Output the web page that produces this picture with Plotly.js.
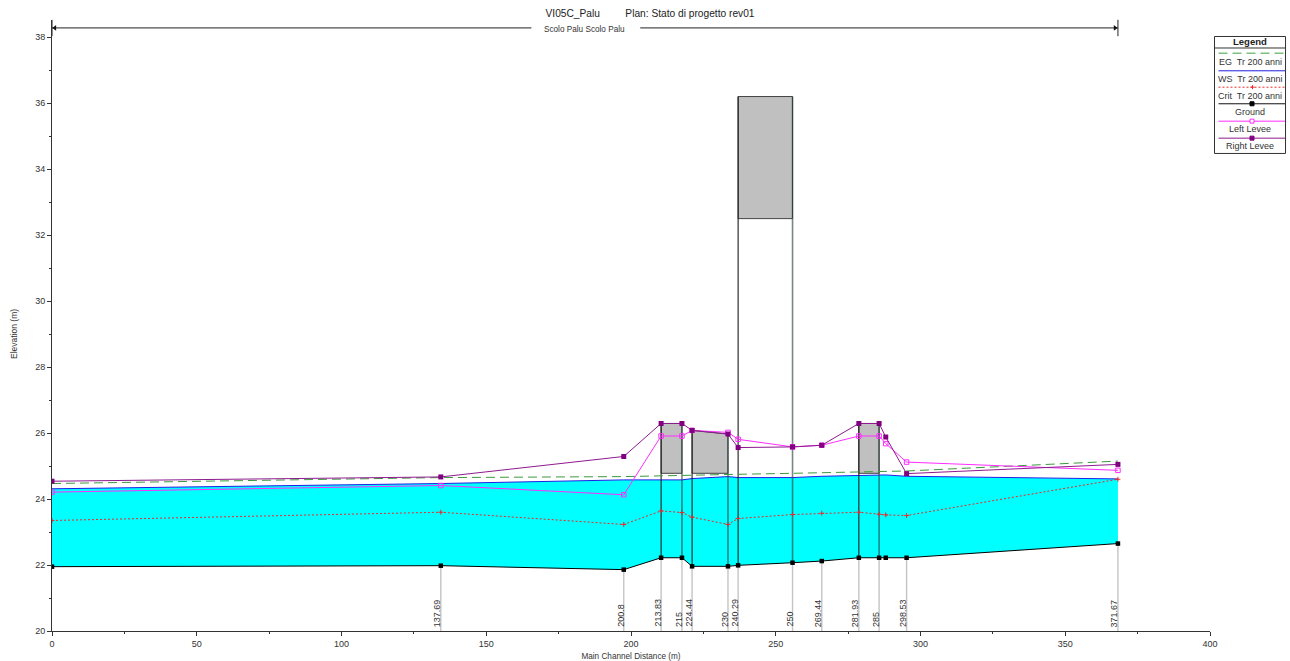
<!DOCTYPE html>
<html>
<head>
<meta charset="utf-8">
<script src="https://cdn.plot.ly/plotly-3.0.1.min.js"></script>
<style>html,body{margin:0;padding:0;background:#fff}#chart{width:1290px;height:661px}</style>
</head>
<body>
<div id="chart"></div>
<script>
// ---- data ----
const stationX = [0,134.3,197.5,210.4,217.6,221.1,233.5,237,255.8,265.9,278.7,285.7,288,295.2,368.2];
const ground   = [21.95,21.98,21.86,22.22,22.22,21.96,21.96,21.99,22.07,22.12,22.22,22.22,22.22,22.22,22.65];
const waterSurface = [24.31,24.47,24.58,24.57,24.58,24.62,24.68,24.65,24.65,24.69,24.71,24.73,24.73,24.69,24.61];
const energyGrade  = [24.47,24.65,24.68,24.71,24.71,24.72,24.75,24.75,24.78,24.8,24.82,24.82,24.83,24.85,25.15];
const critical     = [23.35,23.6,23.23,23.64,23.59,23.45,23.23,23.41,23.53,23.57,23.6,23.54,23.52,23.5,24.6];
const leftLevee    = [24.21,24.41,24.13,25.91,25.91,26.08,26.02,25.81,25.58,25.63,25.91,25.91,25.68,25.12,24.87];
const rightLevee   = [24.54,24.67,25.29,26.29,26.29,26.08,25.97,25.56,25.58,25.63,26.29,26.29,25.88,24.77,25.05];

const labelX    = [134.3,197.5,210.4,217.6,221.1,233.5,237,255.8,265.9,278.7,285.7,295.2,368.2];
const labelText = ["137.69","200.8","213.83","215","224.44","230","240.29","250","269.44","281.93","285","298.53","371.67"];
const labelGround = [21.98,21.86,22.22,22.22,21.96,21.96,21.99,22.07,22.12,22.22,22.22,22.22,22.65];

// bridge decks: [x outline, y outline]
const deck1X = [210.4,217.6,217.6,210.4,210.4];  const deck1Y = [26.29,26.29,24.78,24.78,26.29];
const deck2X = [221.1,233.5,233.5,221.1,221.1];  const deck2Y = [26.08,25.97,24.78,24.78,26.08];
const deck3X = [237,255.8,255.8,237,237];        const deck3Y = [36.2,36.2,32.5,32.5,36.2];
const deck4X = [278.7,285.7,285.7,278.7,278.7];  const deck4Y = [26.29,26.29,24.78,24.78,26.29];

// black piers (ground to deck top)
const pierX   = [210.4,221.1,237,278.7];
const pierBot = [22.22,21.96,21.99,22.22];
const pierTop = [26.29,26.08,36.2,26.29];
// piers drawn softer
const pierSoftX   = [217.6,233.5,255.8,285.7];
const pierSoftBot = [22.22,21.96,22.07,22.22];
const pierSoftTop = [26.29,25.97,36.2,26.29];

const reachY = 38.28;
const reachLeftX = [0,165.6];
const reachRightX = [203.2,368.2];
const reachName = "Scolo Palu Scolo Palu";
const reachNameX = 184;

const legendNames = ["EG  Tr 200 anni","WS  Tr 200 anni","Crit  Tr 200 anni","Ground","Left Levee","Right Levee"];

const C = {eg:'#3c9a3c',ws:'#1f1fe6',crit:'#f02828',ground:'#000',left:'#ff2cff',right:'#8e1a8e',text:'#333'};
const FONT = 'Liberation Sans, Arial, sans-serif';

function segs(xs,a,b){const X=[],Y=[];xs.forEach((x,i)=>{X.push(x,x,null);Y.push(a[i],b[i],null);});return {x:X,y:Y};}
const base = {mode:'lines',hoverinfo:'skip',showlegend:false};
const traces = [];

// water
traces.push({...base,x:stationX,y:ground,line:{color:'#000',width:1}});
traces.push({...base,x:stationX,y:waterSurface,fill:'tonexty',fillcolor:'#00ffff',line:{color:C.ws,width:1}});

// gray station drop lines
const drop = segs(labelX,labelGround,labelX.map(()=>20));
traces.push({...base,x:drop.x,y:drop.y,line:{color:'#c4c4c4',width:1.4}});

// decks
[[deck1X,deck1Y],[deck2X,deck2Y],[deck3X,deck3Y],[deck4X,deck4Y]].forEach(d=>{
  traces.push({...base,x:d[0],y:d[1],fill:'toself',fillcolor:'#c0c0c0',line:{color:'#444',width:1}});
});
const p1 = segs(pierX,pierBot,pierTop);
traces.push({...base,x:p1.x,y:p1.y,line:{color:'#1c1c1c',width:1.1}});
const p2 = segs(pierSoftX,pierSoftBot,pierSoftTop);
traces.push({...base,x:p2.x,y:p2.y,line:{color:'rgba(40,60,60,0.62)',width:1.6}});

// lines
traces.push({...base,x:stationX,y:energyGrade,line:{color:C.eg,width:1,dash:'9px,5px'}});
traces.push({...base,mode:'lines+markers',x:stationX,y:critical,line:{color:C.crit,width:1,dash:'2px,2px'},
  marker:{symbol:'cross-thin',size:3.5,line:{color:C.crit,width:1}}});
traces.push({...base,mode:'markers',x:stationX,y:ground,marker:{symbol:'square',size:4.5,color:'#000'}});
traces.push({...base,mode:'lines+markers',x:stationX,y:leftLevee,line:{color:C.left,width:1},
  marker:{symbol:'square-open',size:4.5,color:C.left,line:{color:C.left,width:1}}});
traces.push({...base,mode:'lines+markers',x:stationX,y:rightLevee,line:{color:C.right,width:1},
  marker:{symbol:'square',size:5,color:'#800080'}});

// reach arrow
traces.push({...base,x:[...reachLeftX,null,...reachRightX],y:[reachY,reachY,null,reachY,reachY],line:{color:'#222',width:1}});
traces.push({...base,mode:'markers',x:[reachLeftX[0]+1],y:[reachY],marker:{symbol:'triangle-left',size:5,color:'#111'}});
traces.push({...base,mode:'markers',x:[reachRightX[1]-1],y:[reachY],marker:{symbol:'triangle-right',size:5,color:'#111'}});

const W=1290,H=661,L=52.4,R=1210,T=19.5,B=630.7;
const px = x=>(x-L)/(R-L), py = y=>(B-y)/(B-T);

const annotations = labelX.map((x,i)=>({x:x,y:20,xref:'x',yref:'y',text:labelText[i],showarrow:false,textangle:-90,
  xanchor:'center',yanchor:'bottom',xshift:-3.5,yshift:2,font:{family:FONT,size:9,color:C.text}}));
annotations.push({x:reachNameX,y:reachY,xref:'x',yref:'y',text:reachName,showarrow:false,
  yshift:-2,font:{family:FONT,size:8.2,color:C.text}});
annotations.push({x:px(15),y:py(334),xref:'paper',yref:'paper',text:'Elevation (m)',showarrow:false,textangle:-90,
  xanchor:'center',yanchor:'middle',font:{family:FONT,size:8.5,color:C.text}});
annotations.push({x:px(1250),y:py(41.5),xref:'paper',yref:'paper',text:'<b>Legend</b>',showarrow:false,
  xanchor:'center',yanchor:'middle',font:{family:FONT,size:9.5,color:'#222'}});

const shapes = [
  {type:'rect',xref:'paper',yref:'paper',x0:px(1214.5),x1:px(1285.5),y0:py(153),y1:py(36),line:{color:'#333',width:1},fillcolor:'#fff',layer:'below'},
  {type:'line',xref:'paper',yref:'paper',x0:px(1214.5),x1:px(1285.5),y0:py(47.5),y1:py(47.5),line:{color:'#333',width:1}},
  {type:'line',xref:'x',yref:'paper',x0:reachLeftX[0],x1:reachLeftX[0],y0:py(35.7),y1:py(19.3),line:{color:'#222',width:1}},
  {type:'line',xref:'x',yref:'paper',x0:reachRightX[1],x1:reachRightX[1],y0:py(35.7),y1:py(19.3),line:{color:'#222',width:1}}
];
const legendSampleY = [52.7,70.3,86.7,103.3,120.7,137.7];
const legendTextY   = [61.7,78.3,95.3,112,129,145.5];
const legendStyle = [
  {color:'#7fc07f',width:1.5,dash:'9px,5px'},{color:C.ws,width:1},{color:C.crit,width:1,dash:'2px,2px'},
  {color:'#111',width:1},{color:C.left,width:1},{color:C.right,width:1}];
const legendMarker = [null,null,null,'#000','#fff','#800080'];
legendNames.forEach((n,i)=>{
  const sy=legendSampleY[i];
  annotations.push({x:px(1250),y:py(legendTextY[i]),xref:'paper',yref:'paper',text:n,showarrow:false,
    xanchor:'center',yanchor:'middle',font:{family:FONT,size:9,color:C.text}});
  shapes.push({type:'line',xref:'paper',yref:'paper',x0:px(1218.5),x1:px(1285),y0:py(sy),y1:py(sy),line:legendStyle[i]});
  if(legendMarker[i]){
    const e = i===4?C.left:legendMarker[i];
    shapes.push({type:'rect',xref:'paper',yref:'paper',x0:px(1250),x1:px(1254),y0:py(sy+2),y1:py(sy-2),
      line:{color:e,width:1},fillcolor:legendMarker[i]});
  }
});
shapes.push({type:'line',xref:'paper',yref:'paper',x0:px(1250.5),x1:px(1254.5),y0:py(86.7),y1:py(86.7),line:{color:C.crit,width:1}});
shapes.push({type:'line',xref:'paper',yref:'paper',x0:px(1252.5),x1:px(1252.5),y0:py(88.7),y1:py(84.7),line:{color:C.crit,width:1}});

const axisBase = {showgrid:false,zeroline:false,showline:true,linecolor:'#333',linewidth:1,ticks:'outside',
  ticklen:4,tickwidth:1,tickcolor:'#333',tickfont:{family:FONT,size:9,color:C.text}};
const layout = {
  width:W,height:H,paper_bgcolor:'#fff',plot_bgcolor:'#fff',showlegend:false,
  margin:{l:L,r:W-R,t:T,b:H-B,pad:0},
  title:{text:'VI05C_Palu\u00a0\u00a0\u00a0\u00a0\u00a0\u00a0\u00a0\u00a0\u00a0Plan: Stato di progetto rev01',
    font:{family:FONT,size:10.2,color:'#222'},x:650/W,xanchor:'center',y:1-13/H,yanchor:'middle'},
  xaxis:{...axisBase,range:[0,400],tickmode:'array',tickvals:[0,50,100,150,200,250,300,350,400],
    ticktext:['0','50','100','150','200','250','300','350','400'],
    minor:{tickmode:'array',tickvals:[25,75,125,175,225,275,325,375],ticks:'outside',ticklen:2,tickwidth:1,tickcolor:'#333'},
    title:{text:'Main Channel Distance (m)',font:{family:FONT,size:8.2,color:C.text},standoff:6}},
  yaxis:{...axisBase,range:[20,38.52],tickmode:'array',tickvals:[20,22,24,26,28,30,32,34,36,38],
    ticktext:['20','22','24','26','28','30','32','34','36','38'],
    minor:{tickmode:'array',tickvals:[21,23,25,27,29,31,33,35,37],ticks:'outside',ticklen:2,tickwidth:1,tickcolor:'#333'}},
  annotations:annotations,shapes:shapes
};
Plotly.newPlot('chart',traces,layout,{displayModeBar:false,responsive:false});
</script>
</body>
</html>
